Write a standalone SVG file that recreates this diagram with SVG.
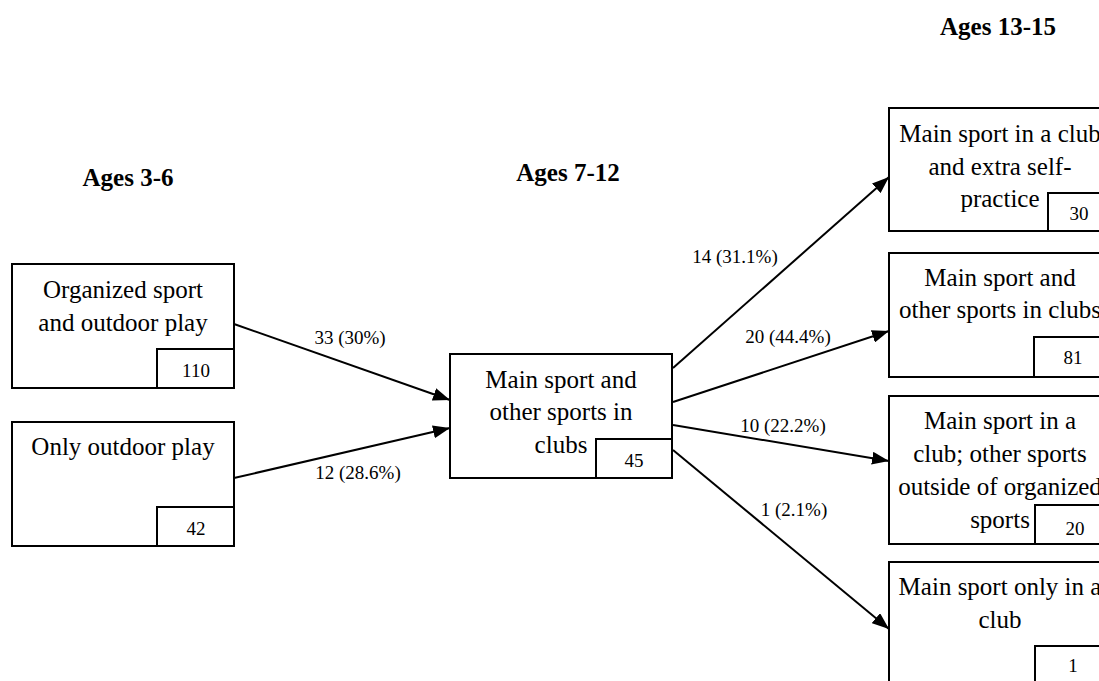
<svg xmlns="http://www.w3.org/2000/svg" width="1099" height="681" viewBox="0 0 1099 681">
  <style>
    .box { fill: #ffffff; stroke: #000000; stroke-width: 2; }
    .txt { font-family: "Liberation Serif", "Times New Roman", serif; font-size: 25px; fill: #000000; text-anchor: middle; }
    .num { font-family: "Liberation Serif", "Times New Roman", serif; font-size: 19px; fill: #000000; text-anchor: middle; }
    .lbl { font-family: "Liberation Serif", "Times New Roman", serif; font-size: 19px; fill: #000000; text-anchor: middle; }
    .head { font-family: "Liberation Serif", "Times New Roman", serif; font-size: 25px; font-weight: bold; fill: #000000; text-anchor: middle; }
    .edge { stroke: #000000; stroke-width: 2; fill: none; marker-end: url(#arrow); }
  </style>
  <defs>
    <marker id="arrow" markerUnits="userSpaceOnUse" markerWidth="17" markerHeight="13" refX="17" refY="6.5" orient="auto">
      <path d="M0,0 L17,6.5 L0,13 Z" fill="#000000"/>
    </marker>
  </defs>
  <rect width="1099" height="681" fill="#ffffff"/>

  <!-- column headings -->
  <g id="headings">
    <text class="head" x="128" y="186">Ages 3-6</text>
    <text class="head" x="568" y="181">Ages 7-12</text>
    <text class="head" x="998" y="35">Ages 13-15</text>
  </g>

  <!-- connectors -->
  <g id="connectors">
    <line class="edge" x1="234" y1="324" x2="450" y2="400"/>
    <line class="edge" x1="234" y1="478" x2="450" y2="428"/>
    <line class="edge" x1="673" y1="368" x2="889" y2="177"/>
    <line class="edge" x1="673" y1="402" x2="889" y2="331"/>
    <line class="edge" x1="673" y1="425" x2="889" y2="461"/>
    <line class="edge" x1="673" y1="450" x2="889" y2="629"/>
    <text class="lbl" x="350" y="344">33 (30%)</text>
    <text class="lbl" x="358" y="479">12 (28.6%)</text>
    <text class="lbl" x="735" y="263">14 (31.1%)</text>
    <text class="lbl" x="788" y="343">20 (44.4%)</text>
    <text class="lbl" x="783" y="432">10 (22.2%)</text>
    <text class="lbl" x="794" y="516">1 (2.1%)</text>
  </g>

  <!-- ages 3-6 -->
  <g id="organized-sport">
    <rect class="box" x="12" y="264" width="222" height="124"/>
    <text class="txt" x="123" y="298">Organized sport</text>
    <text class="txt" x="123" y="331">and outdoor play</text>
    <rect class="box" x="157" y="349" width="77" height="39"/>
    <text class="num" x="196" y="377">110</text>
  </g>
  <g id="only-outdoor">
    <rect class="box" x="12" y="422" width="222" height="124"/>
    <text class="txt" x="123" y="455">Only outdoor play</text>
    <rect class="box" x="157" y="507" width="77" height="39"/>
    <text class="num" x="196" y="535">42</text>
  </g>

  <!-- ages 7-12 -->
  <g id="main-and-other">
    <rect class="box" x="450" y="354" width="222" height="124"/>
    <text class="txt" x="561" y="388">Main sport and</text>
    <text class="txt" x="561" y="420">other sports in</text>
    <text class="txt" x="561" y="453">clubs</text>
    <rect class="box" x="596" y="439" width="76" height="39"/>
    <text class="num" x="634" y="467">45</text>
  </g>

  <!-- ages 13-15 -->
  <g id="club-self-practice">
    <rect class="box" x="889" y="108" width="222" height="123"/>
    <text class="txt" x="1000" y="142">Main sport in a club</text>
    <text class="txt" x="1000" y="175">and extra self-</text>
    <text class="txt" x="1000" y="207">practice</text>
    <rect class="box" x="1048" y="193" width="63" height="38"/>
    <text class="num" x="1079" y="220">30</text>
  </g>
  <g id="club-other-clubs">
    <rect class="box" x="889" y="253" width="222" height="124"/>
    <text class="txt" x="1000" y="286">Main sport and</text>
    <text class="txt" x="1000" y="318">other sports in clubs</text>
    <rect class="box" x="1034" y="337" width="77" height="40"/>
    <text class="num" x="1073" y="364">81</text>
  </g>
  <g id="club-other-unorganized">
    <rect class="box" x="889" y="396" width="222" height="148"/>
    <text class="txt" x="1000" y="429">Main sport in a</text>
    <text class="txt" x="1000" y="462">club; other sports</text>
    <text class="txt" x="1000" y="495">outside of organized</text>
    <text class="txt" x="1000" y="528">sports</text>
    <rect class="box" x="1035" y="505" width="76" height="39"/>
    <text class="num" x="1075" y="535">20</text>
  </g>
  <g id="club-only">
    <rect class="box" x="889" y="562" width="222" height="124"/>
    <text class="txt" x="1000" y="595">Main sport only in a</text>
    <text class="txt" x="1000" y="628">club</text>
    <rect class="box" x="1035" y="646" width="76" height="40"/>
    <text class="num" x="1073" y="672">1</text>
  </g>
</svg>
